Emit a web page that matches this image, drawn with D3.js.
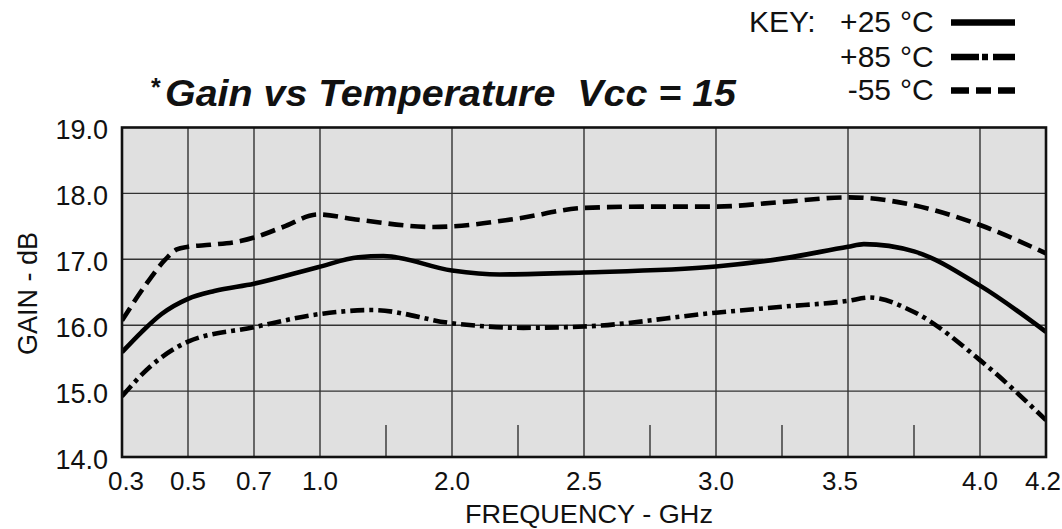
<!DOCTYPE html>
<html><head><meta charset="utf-8">
<script src="https://cdn.jsdelivr.net/npm/d3@7"></script>
<style>
body{margin:0;background:#fff}
svg{display:block}
text{font-family:"Liberation Sans",Arial,Helvetica,sans-serif;fill:#111}
</style>
</head><body>
<svg id="chart" width="1062" height="529"></svg>
<script>
// ---- data ----
const freqTicks      = [0.3, 0.5, 0.7, 1.0, 2.0, 2.5, 3.0, 3.5, 4.0, 4.2];
const freqTickLabels = ["0.3","0.5","0.7","1.0","2.0","2.5","3.0","3.5","4.0","4.2"];
const freqGridSteps  = [0, 1, 2, 3, 5, 7, 9, 11, 13, 14];   // non-uniform axis: grid step index of each tick
const minorFreqTicks = [1.5, 2.25, 2.75, 3.25, 3.75];
const gainTicks      = [14, 15, 16, 17, 18, 19];
const gainTickLabels = ["14.0","15.0","16.0","17.0","18.0","19.0"];

const tempLabels = ["+25", "+85", "-55"];

// +25 °C (solid)
const freq25 = [0.3, 0.36, 0.42, 0.5, 0.58, 0.7, 0.99, 1.29, 1.48, 2.0, 2.18, 2.5, 3.0, 3.25, 3.5, 3.56, 3.75, 4.0, 4.2];
const gain25 = [15.59, 15.90, 16.17, 16.40, 16.52, 16.63, 16.88, 17.03, 17.05, 16.83, 16.77, 16.80, 16.89, 17.01, 17.19, 17.23, 17.12, 16.60, 15.90];

// +85 °C (dash-dot)
const freq85 = [0.3, 0.385, 0.5, 0.7, 1.0, 1.4, 2.0, 2.27, 2.5, 3.0, 3.25, 3.5, 3.58, 3.75, 4.0, 4.2];
const gain85 = [14.92, 15.37, 15.75, 15.97, 16.17, 16.23, 16.03, 15.96, 15.98, 16.19, 16.28, 16.37, 16.42, 16.20, 15.47, 14.56];

// -55 °C (dashed)
const freq55 = [0.3, 0.37, 0.43, 0.466, 0.5, 0.567, 0.662, 0.7, 0.832, 0.99, 1.29, 1.86, 2.0, 2.25, 2.5, 2.75, 3.0, 3.25, 3.5, 3.57, 3.75, 4.0, 4.2];
const gain55 = [16.07, 16.60, 16.99, 17.15, 17.19, 17.22, 17.28, 17.33, 17.49, 17.68, 17.60, 17.49, 17.50, 17.62, 17.78, 17.80, 17.80, 17.87, 17.94, 17.93, 17.82, 17.52, 17.09];

// ---- layout ----
const L = 122, R = 1046, T = 127.5, B = 457;
const svg = d3.select("#chart");

const step = d3.scaleLinear().domain([0, 14]).range([L, R]);
const x = d3.scaleLinear().domain(freqTicks).range(freqGridSteps.map(step));
const y = d3.scaleLinear().domain([14, 19]).range([B, T]);

// plot background
svg.append("rect").attr("x", L).attr("y", T).attr("width", R - L).attr("height", B - T)
  .attr("fill", "#e0e0e0");

// vertical grid
svg.append("g").selectAll("line").data(freqTicks.slice(1, -1)).join("line")
  .attr("x1", d => x(d)).attr("x2", d => x(d)).attr("y1", T).attr("y2", B)
  .attr("stroke", "#333").attr("stroke-width", 1.4);

// horizontal grid
svg.append("g").selectAll("line").data(gainTicks.slice(1, -1)).join("line")
  .attr("x1", L).attr("x2", R).attr("y1", d => y(d)).attr("y2", d => y(d))
  .attr("stroke", "#333").attr("stroke-width", 1.4);

// minor ticks at bottom
svg.append("g").selectAll("line").data(minorFreqTicks).join("line")
  .attr("x1", d => x(d)).attr("x2", d => x(d)).attr("y1", B).attr("y2", B - 32)
  .attr("stroke", "#333").attr("stroke-width", 1.4);

// series
const line = d3.line().x(d => x(d[0])).y(d => y(d[1])).curve(d3.curveMonotoneX);
const series = [
  {f: freq25, g: gain25, dash: null},
  {f: freq85, g: gain85, dash: "14,5,4,5"},
  {f: freq55, g: gain55, dash: "15,7"}
];
svg.append("clipPath").attr("id", "clip").append("rect")
  .attr("x", L).attr("y", T).attr("width", R - L).attr("height", B - T);
svg.append("g").attr("clip-path", "url(#clip)").selectAll("path").data(series).join("path")
  .attr("d", s => line(s.f.map((f, i) => [f, s.g[i]])))
  .attr("fill", "none").attr("stroke", "#000").attr("stroke-width", 4.6)
  .attr("stroke-dasharray", s => s.dash);

// frame
svg.append("rect").attr("x", L).attr("y", T).attr("width", R - L).attr("height", B - T)
  .attr("fill", "none").attr("stroke", "#111").attr("stroke-width", 2.6);

// y tick labels
svg.append("g").selectAll("text").data(gainTicks).join("text")
  .attr("x", 108).attr("y", d => y(d) + 11.5)
  .attr("text-anchor", "end").attr("font-size", 27)
  .text((d, i) => gainTickLabels[i]);

// x tick labels
const labelShift = {"0.3": 4, "3.5": -8, "4.2": -3};
svg.append("g").selectAll("text").data(freqTicks).join("text")
  .attr("x", (d, i) => x(d) + (labelShift[freqTickLabels[i]] || 0)).attr("y", 490)
  .attr("text-anchor", "middle").attr("font-size", 26)
  .text((d, i) => freqTickLabels[i]);

// axis titles
svg.append("text").attr("transform", "translate(37,293.5) rotate(-90)")
  .attr("text-anchor", "middle").attr("font-size", 27).text("GAIN - dB");
svg.append("text").attr("x", 465).attr("y", 523).attr("font-size", 26)
  .attr("textLength", 248).attr("lengthAdjust", "spacingAndGlyphs")
  .text("FREQUENCY - GHz");

// title
svg.append("text").attr("x", 151).attr("y", 96).attr("font-size", 25).attr("font-weight", "bold")
  .text("*");
svg.append("text").attr("x", 165).attr("y", 106).attr("font-size", 36)
  .style("white-space", "pre")
  .attr("textLength", 571).attr("lengthAdjust", "spacingAndGlyphs")
  .attr("font-weight", "bold").attr("font-style", "italic").text("Gain vs Temperature  Vcc = 15");

// legend
const legY = [32, 66.5, 100];
const legDash = [null, "28,3,6,5,22", "18,7,15,7,17"];
svg.append("text").attr("x", 749).attr("y", legY[0]).attr("font-size", 30).text("KEY:");
const leg = svg.append("g").selectAll("g").data(tempLabels).join("g");
leg.append("text").attr("x", 891).attr("y", (d, i) => legY[i]).attr("text-anchor", "end")
  .attr("font-size", 30).text(d => d);
leg.append("text").attr("x", 900).attr("y", (d, i) => legY[i]).attr("font-size", 30).text("°C");
leg.append("line").attr("x1", 951).attr("x2", 1015)
  .attr("y1", (d, i) => legY[i] - 9.5).attr("y2", (d, i) => legY[i] - 9.5)
  .attr("stroke", "#000").attr("stroke-width", 6.5)
  .attr("stroke-dasharray", (d, i) => legDash[i]);
</script>
</body></html>
